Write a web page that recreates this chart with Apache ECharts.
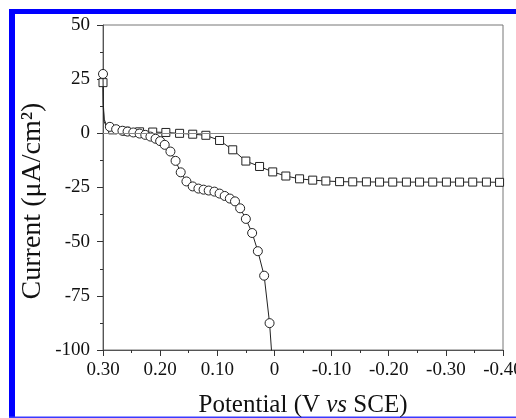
<!DOCTYPE html>
<html>
<head>
<meta charset="utf-8">
<title>Current vs Potential</title>
<script src="https://cdn.jsdelivr.net/npm/echarts@6/dist/echarts.min.js"></script>
<style>
  html, body { margin: 0; padding: 0; background: #fff; }
  #main { width: 516px; height: 418px; }
</style>
</head>
<body>
<div id="main"></div>
<script>
// 坐标轴刻度
const xTicks = [0.3, 0.2, 0.1, 0, -0.1, -0.2, -0.3, -0.4];
const yTicks = [50, 25, 0, -25, -50, -75, -100];

// 圆圈曲线 (V, μA/cm²)
const circlePotential = [0.300, 0.2995, 0.298, 0.2945, 0.288, 0.277, 0.266, 0.257, 0.247, 0.236,
  0.226, 0.217, 0.208, 0.200, 0.192, 0.182, 0.173, 0.164, 0.154, 0.143,
  0.133, 0.124, 0.115, 0.105, 0.096, 0.087, 0.078, 0.069, 0.060, 0.050,
  0.039, 0.029, 0.018, 0.0085, 0.002];
const circleCurrent = [27.4, 14, 6.5, 4.2, 3.0, 1.9, 1.2, 0.8, 0.4, -0.1,
  -0.7, -1.5, -2.5, -3.6, -5.3, -8.4, -12.7, -18.0, -22.2, -24.5,
  -25.5, -26.0, -26.4, -26.9, -27.8, -28.9, -30.1, -31.4, -34.6, -39.5,
  -46.0, -54.4, -65.7, -87.6, -112];
const circleNoMark = [1, 2, 3, 34];

// 方块曲线
const squarePotential = [0.300, 0.2995, 0.298, 0.294, 0.283, 0.260, 0.236, 0.213, 0.190, 0.166,
  0.143, 0.120, 0.096, 0.073, 0.050, 0.026, 0.003, -0.020, -0.044, -0.067,
  -0.090, -0.114, -0.137, -0.161, -0.184, -0.207, -0.231, -0.254, -0.277, -0.301,
  -0.324, -0.347, -0.371, -0.394];
const squareCurrent = [23.4, 12, 5.5, 3.0, 1.6, 1.0, 0.7, 0.6, 0.4, 0.0,
  -0.4, -0.9, -3.3, -7.6, -12.8, -15.3, -17.8, -19.7, -21.0, -21.6,
  -22.0, -22.3, -22.4, -22.4, -22.5, -22.5, -22.5, -22.5, -22.5, -22.5,
  -22.5, -22.5, -22.5, -22.6];
const squareNoMark = [1, 2, 3];

const serif = '"Liberation Serif", "Times New Roman", serif';

function buildData(xs, ys, noMark) {
  return xs.map((x, i) => {
    const item = { value: [x, ys[i]] };
    if (noMark.includes(i)) item.symbol = 'none';
    return item;
  });
}

const xStep = Math.abs(xTicks[0] - xTicks[1]);
const yStep = yTicks[0] - yTicks[1];

const chart = echarts.init(document.getElementById('main'));
const option = {
  animation: false,
  backgroundColor: '#fff',
  grid: {
    left: 103,
    top: 25,
    right: 13,
    bottom: 68,
    outerBoundsMode: 'none',
    show: true,
    borderColor: '#777',
    borderWidth: 1,
  },
  xAxis: {
    type: 'value',
    inverse: true,
    min: Math.min(...xTicks),
    max: Math.max(...xTicks),
    interval: xStep,
    name: 'Potential (V {i|vs} SCE)',
    nameLocation: 'middle',
    nameGap: 43,
    nameTextStyle: {
      fontFamily: serif,
      fontSize: 25,
      color: '#111',
      rich: {
        i: { fontFamily: serif, fontSize: 25, fontStyle: 'italic', color: '#111' },
      },
    },
    axisLine: { show: true, onZero: false, lineStyle: { color: '#555', width: 1 } },
    axisTick: { show: true, inside: false, length: 6, lineStyle: { color: '#333' } },
    minorTick: { show: true, splitNumber: 2, length: 3, lineStyle: { color: '#333' } },
    splitLine: { show: false },
    axisLabel: {
      margin: 11,
      fontFamily: serif,
      fontSize: 19,
      color: '#111',
      formatter: v => (Math.abs(v) < 1e-9 ? '0' : v.toFixed(2)),
    },
  },
  yAxis: {
    type: 'value',
    min: Math.min(...yTicks),
    max: Math.max(...yTicks),
    interval: yStep,
    axisLine: { show: true, onZero: false, lineStyle: { color: '#555', width: 1 } },
    axisTick: { show: true, inside: false, length: 6, lineStyle: { color: '#333' } },
    minorTick: { show: true, splitNumber: 2, length: 3, lineStyle: { color: '#333' } },
    splitLine: { show: false },
    axisLabel: {
      margin: 13,
      fontFamily: serif,
      fontSize: 19,
      color: '#111',
    },
  },
  graphic: [
    // 蓝色边框
    { type: 'rect', shape: { x: 9, y: 9, width: 6, height: 409 }, style: { fill: '#0000ff' }, silent: true },
    { type: 'rect', shape: { x: 9, y: 9, width: 507, height: 5 }, style: { fill: '#0000ff' }, silent: true },
    { type: 'rect', shape: { x: 9, y: 416.5, width: 507, height: 1.5 }, style: { fill: '#3a3aff' }, silent: true },
    // 纵轴标题
    {
      type: 'text',
      x: 33,
      y: 201,
      rotation: Math.PI / 2,
      style: {
        text: 'Current (μA/cm²)',
        font: '28px ' + serif,
        fill: '#111',
        align: 'center',
        verticalAlign: 'middle',
      },
      silent: true,
    },
  ],
  series: [
    {
      name: 'square',
      type: 'line',
      data: buildData(squarePotential, squareCurrent, squareNoMark),
      symbol: 'rect',
      symbolSize: 8,
      showAllSymbol: true,
      clip: true,
      lineStyle: { color: '#222', width: 1 },
      itemStyle: { color: '#fff', borderColor: '#222', borderWidth: 1 },
      markLine: {
        silent: true,
        symbol: 'none',
        label: { show: false },
        lineStyle: { color: '#888', width: 1, type: 'solid' },
        data: [{ yAxis: 0 }],
      },
      z: 2,
    },
    {
      name: 'circle',
      type: 'line',
      data: buildData(circlePotential, circleCurrent, circleNoMark),
      symbol: 'circle',
      symbolSize: 9,
      showAllSymbol: true,
      clip: true,
      lineStyle: { color: '#222', width: 1 },
      itemStyle: { color: '#fff', borderColor: '#222', borderWidth: 1 },
      z: 3,
    },
  ],
};
chart.setOption(option);
</script>
</body>
</html>
